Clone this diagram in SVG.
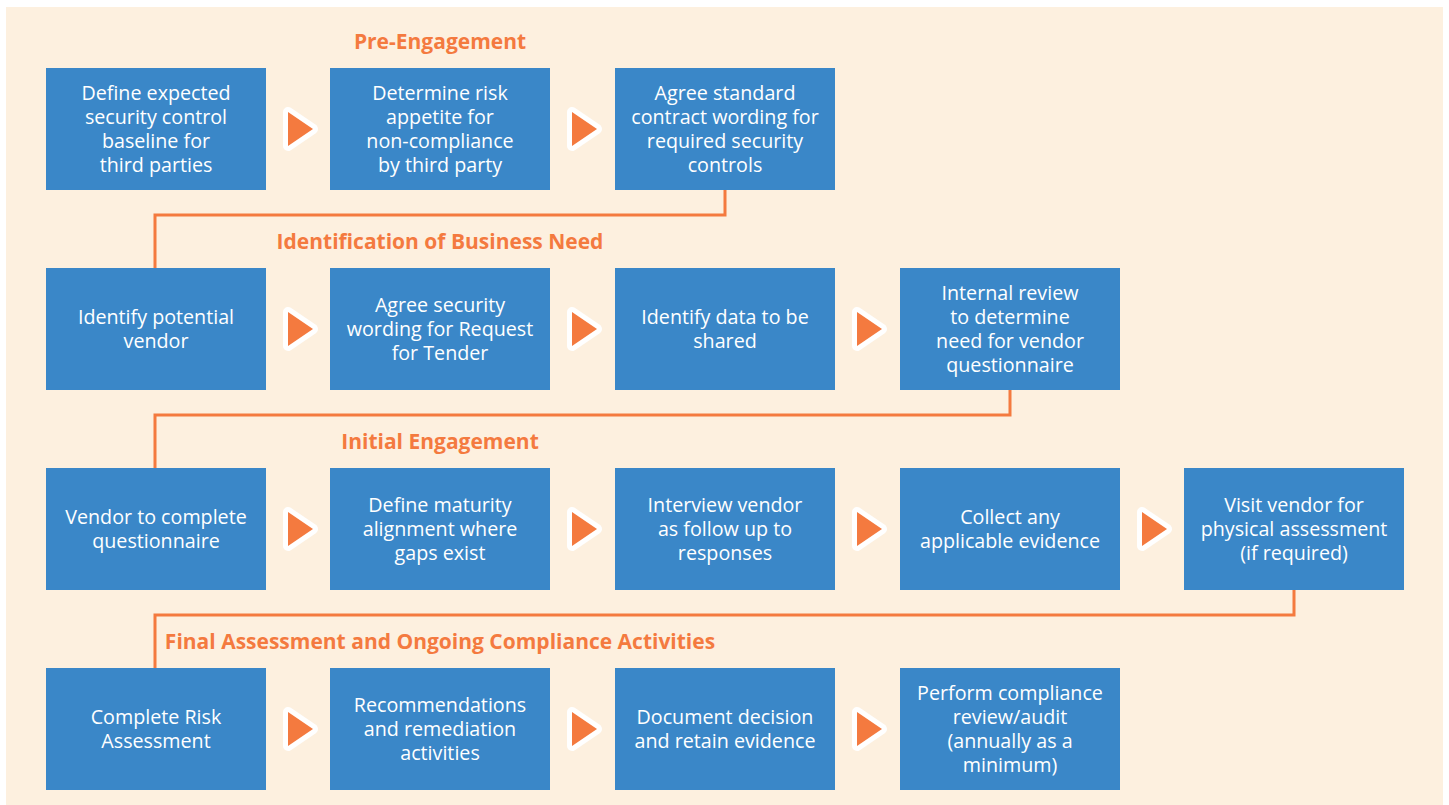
<svg xmlns="http://www.w3.org/2000/svg" width="1449" height="805" viewBox="0 0 1449 805">
<style>
.box{fill:#3A87C8}
.t{font-family:"Open Sans","Liberation Sans",sans-serif;font-size:19.7px;fill:#FFFFFF;text-anchor:middle}
.h{font-family:"Open Sans","Liberation Sans",sans-serif;font-size:21px;font-weight:bold;fill:#F47A3F;text-anchor:middle}
.arr{fill:#F47A3F;stroke:#FFFFFF;stroke-width:10;stroke-linejoin:round;paint-order:stroke}
.con{fill:none;stroke:#F47A3F;stroke-width:3}
</style>
<defs>
<polygon id="tri" class="arr" points="-10,-17 -10,17 15,0"/>
</defs>
<rect x="6" y="7" width="1437" height="798" fill="#FDF0DF"/>
<g id="headings">
<text class="h" x="440" y="49">Pre-Engagement</text>
<text class="h" x="440" y="249">Identification of Business Need</text>
<text class="h" x="440" y="449">Initial Engagement</text>
<text class="h" x="440" y="649">Final Assessment and Ongoing Compliance Activities</text>
</g>
<g id="connectors">
<polyline class="con" points="725,190 725,215 155,215 155,268"/>
<polyline class="con" points="1010,390 1010,415 155,415 155,468"/>
<polyline class="con" points="1294,590 1294,615 155,615 155,668"/>
<use href="#tri" x="298" y="129"/>
<use href="#tri" x="582" y="129"/>
<use href="#tri" x="298" y="329"/>
<use href="#tri" x="582" y="329"/>
<use href="#tri" x="867" y="329"/>
<use href="#tri" x="298" y="529"/>
<use href="#tri" x="582" y="529"/>
<use href="#tri" x="867" y="529"/>
<use href="#tri" x="1152" y="529"/>
<use href="#tri" x="298" y="729"/>
<use href="#tri" x="582" y="729"/>
<use href="#tri" x="867" y="729"/>
</g>
<g id="n1"><rect class="box" x="46" y="68" width="220" height="122"/>
<text class="t" x="156" y="100">Define expected</text><text class="t" x="156" y="124">security control</text><text class="t" x="156" y="148">baseline for</text><text class="t" x="156" y="172">third parties</text></g>
<g id="n2"><rect class="box" x="330" y="68" width="220" height="122"/>
<text class="t" x="440" y="100">Determine risk</text><text class="t" x="440" y="124">appetite for</text><text class="t" x="440" y="148">non-compliance</text><text class="t" x="440" y="172">by third party</text></g>
<g id="n3"><rect class="box" x="615" y="68" width="220" height="122"/>
<text class="t" x="725" y="100">Agree standard</text><text class="t" x="725" y="124">contract wording for</text><text class="t" x="725" y="148">required security</text><text class="t" x="725" y="172">controls</text></g>

<g id="n4"><rect class="box" x="46" y="268" width="220" height="122"/>
<text class="t" x="156" y="324">Identify potential</text><text class="t" x="156" y="348">vendor</text></g>
<g id="n5"><rect class="box" x="330" y="268" width="220" height="122"/>
<text class="t" x="440" y="312">Agree security</text><text class="t" x="440" y="336">wording for Request</text><text class="t" x="440" y="360">for Tender</text></g>
<g id="n6"><rect class="box" x="615" y="268" width="220" height="122"/>
<text class="t" x="725" y="324">Identify data to be</text><text class="t" x="725" y="348">shared</text></g>
<g id="n7"><rect class="box" x="900" y="268" width="220" height="122"/>
<text class="t" x="1010" y="300">Internal review</text><text class="t" x="1010" y="324">to determine</text><text class="t" x="1010" y="348">need for vendor</text><text class="t" x="1010" y="372">questionnaire</text></g>

<g id="n8"><rect class="box" x="46" y="468" width="220" height="122"/>
<text class="t" x="156" y="524">Vendor to complete</text><text class="t" x="156" y="548">questionnaire</text></g>
<g id="n9"><rect class="box" x="330" y="468" width="220" height="122"/>
<text class="t" x="440" y="512">Define maturity</text><text class="t" x="440" y="536">alignment where</text><text class="t" x="440" y="560">gaps exist</text></g>
<g id="n10"><rect class="box" x="615" y="468" width="220" height="122"/>
<text class="t" x="725" y="512">Interview vendor</text><text class="t" x="725" y="536">as follow up to</text><text class="t" x="725" y="560">responses</text></g>
<g id="n11"><rect class="box" x="900" y="468" width="220" height="122"/>
<text class="t" x="1010" y="524">Collect any</text><text class="t" x="1010" y="548">applicable evidence</text></g>
<g id="n12"><rect class="box" x="1184" y="468" width="220" height="122"/>
<text class="t" x="1294" y="512">Visit vendor for</text><text class="t" x="1294" y="536">physical assessment</text><text class="t" x="1294" y="560">(if required)</text></g>

<g id="n13"><rect class="box" x="46" y="668" width="220" height="122"/>
<text class="t" x="156" y="724">Complete Risk</text><text class="t" x="156" y="748">Assessment</text></g>
<g id="n14"><rect class="box" x="330" y="668" width="220" height="122"/>
<text class="t" x="440" y="712">Recommendations</text><text class="t" x="440" y="736">and remediation</text><text class="t" x="440" y="760">activities</text></g>
<g id="n15"><rect class="box" x="615" y="668" width="220" height="122"/>
<text class="t" x="725" y="724">Document decision</text><text class="t" x="725" y="748">and retain evidence</text></g>
<g id="n16"><rect class="box" x="900" y="668" width="220" height="122"/>
<text class="t" x="1010" y="700">Perform compliance</text><text class="t" x="1010" y="724">review/audit</text><text class="t" x="1010" y="748">(annually as a</text><text class="t" x="1010" y="772">minimum)</text></g>
</svg>
